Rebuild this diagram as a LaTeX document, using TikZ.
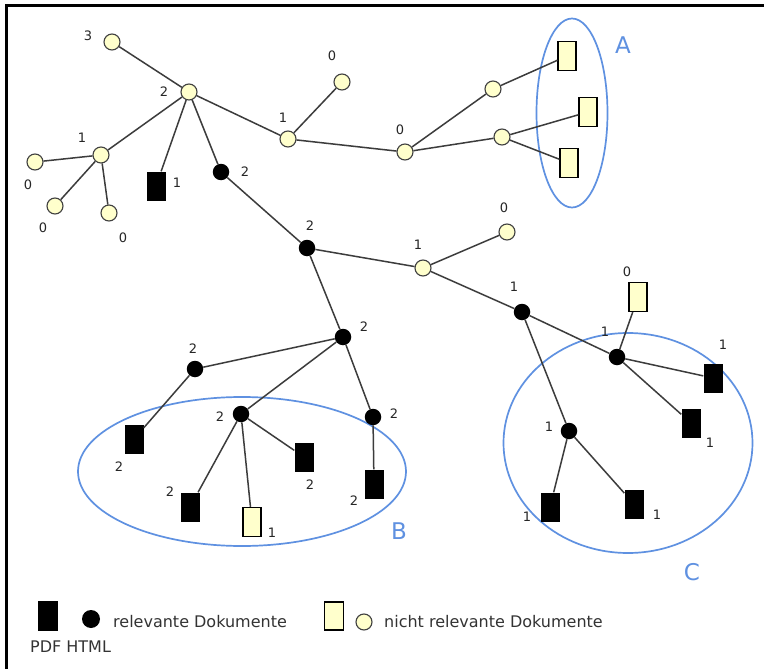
\documentclass[tikz,border=0pt]{standalone}
\usepackage{fontspec}
\setmainfont{DejaVu Sans}
\usetikzlibrary{shapes.geometric}
\definecolor{cream}{RGB}{255,255,204}
\definecolor{edgegray}{RGB}{60,60,60}
\definecolor{grpblue}{RGB}{95,145,225}
\begin{document}
\begin{tikzpicture}[x=1pt,y=-1pt,
  yc/.style={circle, draw=black!75, fill=cream, minimum size=16pt, inner sep=0pt, line width=1.1pt},
  bc/.style={circle, fill=black, minimum size=16.5pt, inner sep=0pt},
  yr/.style={rectangle, draw=black, fill=cream, minimum width=18pt, minimum height=29pt, inner sep=0pt, line width=1.1pt},
  br/.style={rectangle, fill=black, minimum width=19pt, minimum height=29pt, inner sep=0pt},
  num/.style={font=\fontsize{13}{15}\selectfont, text=black!85, inner sep=0pt},
  con/.style={draw=edgegray, line width=1.5pt},
  grp/.style={ellipse, draw=grpblue, line width=1.7pt, inner sep=0pt},
  grplabel/.style={font=\fontsize{23}{26}\selectfont, text=grpblue, inner sep=0pt},
  legtext/.style={font=\fontsize{16}{18}\selectfont, text=black!80, inner sep=0pt, anchor=west}
]
\useasboundingbox (0,0) rectangle (764,669);
\fill[white] (0,0) rectangle (764,669);
% frame
\draw[line width=2.8pt] (6.2,669) -- (6.2,5.3) -- (764,5.3);

% group ellipses
\node[grp, minimum width=71pt, minimum height=189pt] (grpA) at (572,113) {};
\node[grp, minimum width=328pt, minimum height=149pt] (grpB) at (242,471.5) {};
\node[grp, minimum width=249pt, minimum height=220pt] (grpC) at (628,443) {};
\node[grplabel] (labA) at (623,45) {A};
\node[grplabel] (labB) at (399,531) {B};
\node[grplabel] (labC) at (692,572) {C};

% yellow circles
\node[yc] (c3)  at (112,42) {};
\node[yc] (hub) at (189,92) {};
\node[yc] (c1L) at (101,155) {};
\node[yc] (l0a) at (35,162) {};
\node[yc] (l0b) at (55,206) {};
\node[yc] (l0c) at (109,213) {};
\node[yc] (c1m) at (288,139) {};
\node[yc] (l0t) at (342,82) {};
\node[yc] (c0)  at (405,152) {};
\node[yc] (cu)  at (493,89) {};
\node[yc] (cl)  at (502,137) {};
\node[yc] (c1c) at (423,268) {};
\node[yc] (l0r) at (507,232) {};

% black circles
\node[bc] (b1) at (221,172) {};
\node[bc] (b2) at (307,248) {};
\node[bc] (b3) at (522,312) {};
\node[bc] (b4) at (617,357) {};
\node[bc] (b5) at (569,431) {};
\node[bc] (b6) at (343,337) {};
\node[bc] (b7) at (195,369) {};
\node[bc] (b8) at (241,414) {};
\node[bc] (b9) at (373,417) {};

% yellow rectangles
\node[yr] (A1) at (567,56) {};
\node[yr] (A2) at (588,112) {};
\node[yr] (A3) at (569,163) {};
\node[yr] (r0) at (638,297) {};
\node[yr] (B3) at (252,522) {};

% black rectangles
\node[br] (pdf) at (156,186) {};
\node[br] (C1) at (713,378) {};
\node[br] (C2) at (691,423) {};
\node[br] (C3) at (550,507) {};
\node[br] (C4) at (634,504) {};
\node[br] (B1) at (134,439) {};
\node[br] (B2) at (190,507) {};
\node[br] (B4) at (304,457) {};
\node[br] (B5) at (374,484) {};

% connectors
\draw[con] (c3) -- (hub);
\draw[con] (hub) -- (c1L);
\draw[con] (c1L) -- (l0a);
\draw[con] (c1L) -- (l0b);
\draw[con] (c1L) -- (l0c);
\draw[con] (hub) -- (pdf);
\draw[con] (hub) -- (b1);
\draw[con] (hub) -- (c1m);
\draw[con] (c1m) -- (l0t);
\draw[con] (c1m) -- (c0);
\draw[con] (c0) -- (cu);
\draw[con] (c0) -- (cl);
\draw[con] (cu) -- (A1);
\draw[con] (cl) -- (A2);
\draw[con] (cl) -- (A3);
\draw[con] (b1) -- (b2);
\draw[con] (b2) -- (c1c);
\draw[con] (c1c) -- (l0r);
\draw[con] (c1c) -- (b3);
\draw[con] (b2) -- (b6);
\draw[con] (b6) -- (b7);
\draw[con] (b6) -- (b8);
\draw[con] (b6) -- (b9);
\draw[con] (b7) -- (B1);
\draw[con] (b8) -- (B2);
\draw[con] (b8) -- (B3);
\draw[con] (b8) -- (B4);
\draw[con] (b9) -- (B5);
\draw[con] (b3) -- (b4);
\draw[con] (b3) -- (b5);
\draw[con] (b4) -- (r0);
\draw[con] (b4) -- (C1);
\draw[con] (b4) -- (C2);
\draw[con] (b5) -- (C3);
\draw[con] (b5) -- (C4);

% number labels
\node[num] (n01) at (88,36) {3};
\node[num] (n02) at (164,92) {2};
\node[num] (n03) at (82,138) {1};
\node[num] (n04) at (28,185) {0};
\node[num] (n05) at (43,228) {0};
\node[num] (n06) at (123,238) {0};
\node[num] (n07) at (177,183) {1};
\node[num] (n08) at (245,172) {2};
\node[num] (n09) at (283,118) {1};
\node[num] (n10) at (332,56) {0};
\node[num] (n11) at (310,226) {2};
\node[num] (n12) at (400,130) {0};
\node[num] (n13) at (504,208) {0};
\node[num] (n14) at (418,245) {1};
\node[num] (n15) at (514,287) {1};
\node[num] (n16) at (627,272) {0};
\node[num] (n17) at (605,332) {1};
\node[num] (n18) at (723,345) {1};
\node[num] (n19) at (710,443) {1};
\node[num] (n20) at (549,427) {1};
\node[num] (n21) at (527,517) {1};
\node[num] (n22) at (657,515) {1};
\node[num] (n23) at (364,327) {2};
\node[num] (n24) at (193,349) {2};
\node[num] (n25) at (220,417) {2};
\node[num] (n26) at (394,414) {2};
\node[num] (n27) at (119,467) {2};
\node[num] (n28) at (170,492) {2};
\node[num] (n29) at (272,533) {1};
\node[num] (n30) at (310,485) {2};
\node[num] (n31) at (354,501) {2};

% legend
\node[br, minimum width=20pt, minimum height=30pt] (legbr) at (48,616) {};
\node[bc, minimum size=18pt] (legbc) at (91,619) {};
\node[legtext] (legrel) at (113,622) {relevante Dokumente};
\node[yr, minimum width=19pt, minimum height=28pt] (legyr) at (334,616) {};
\node[yc] (legyc) at (364,622) {};
\node[legtext] (legnrel) at (384,622) {nicht relevante Dokumente};
\node[legtext] (legfmt) at (30,647) {PDF HTML};
\end{tikzpicture}
\end{document}
